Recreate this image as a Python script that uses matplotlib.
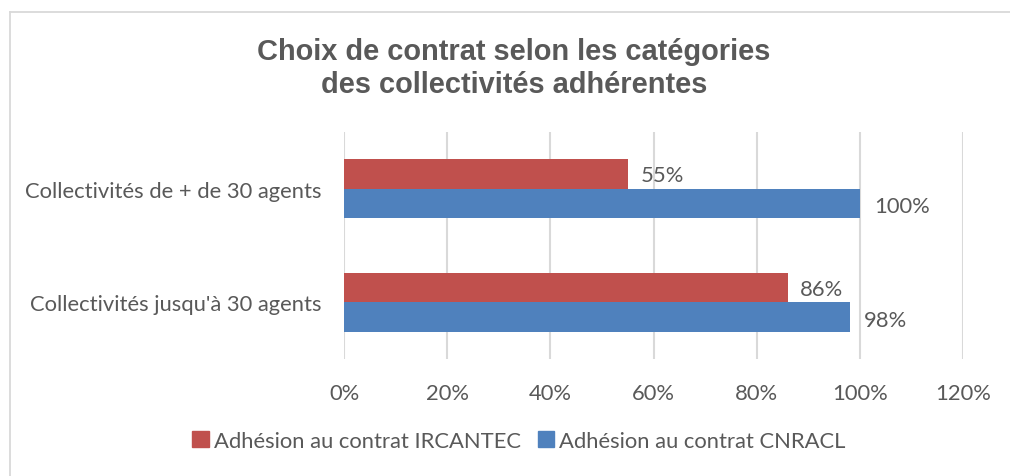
import matplotlib
matplotlib.use("Agg")
import matplotlib.pyplot as plt
from matplotlib.lines import Line2D
from matplotlib.patches import Patch
from matplotlib.ticker import FuncFormatter
import numpy as np

categories = ["Collectivités jusqu'à 30 agents", "Collectivités de + de 30 agents"]
series_names = ["Adhésion au contrat IRCANTEC", "Adhésion au contrat CNRACL"]
ircantec = [86, 55]
cnracl = [98, 100]
xticks = [0, 20, 40, 60, 80, 100, 120]
title = "Choix de contrat selon les catégories\ndes collectivités adhérentes"

RED = "#C0504D"
BLUE = "#4F81BD"
TXT = "#595959"
GRID = "#D9D9D9"
FONT = "Lato"
FS = 15.8

W, H = 1010, 477
fig = plt.figure(figsize=(W / 100, H / 100), dpi=100)

# outer chart frame (top and left edges visible)
fig.lines.append(Line2D([9.5 / W, 1.0], [1 - 12.5 / H, 1 - 12.5 / H],
                        transform=fig.transFigure, color=GRID, linewidth=1.3))
fig.lines.append(Line2D([9.5 / W, 9.5 / W], [0.0, 1 - 12.5 / H],
                        transform=fig.transFigure, color=GRID, linewidth=1.3))

ax = fig.add_axes([344 / W, 1 - 360 / H, (963 - 344) / W, (360 - 133) / H])
y = np.arange(len(categories))
h = 0.26
ax.barh(y + h / 2, ircantec, height=h, color=RED, zorder=3)
ax.barh(y - h / 2, cnracl, height=h, color=BLUE, zorder=3)

for yi, v in zip(y + h / 2, ircantec):
    ax.annotate(f"{v}%", (v, yi), xytext=(9, -1), textcoords="offset points",
                va="center", ha="left", color=TXT, fontsize=FS, family=FONT)
for yi, v in zip(y - h / 2, cnracl):
    ax.annotate(f"{v}%", (v, yi), xytext=(10, -2), textcoords="offset points",
                va="center", ha="left", color=TXT, fontsize=FS, family=FONT)

ax.set_xlim(0, 120)
ax.set_ylim(-0.5, 1.5)
ax.set_xticks(xticks)
ax.xaxis.set_major_formatter(FuncFormatter(lambda v, p: f"{v:.0f}%"))
ax.set_yticks(y)
ax.set_yticklabels(categories)
ax.grid(axis="x", color=GRID, linewidth=1.5, zorder=0)
for s in ax.spines.values():
    s.set_visible(False)
ax.tick_params(axis="both", length=0, colors=TXT, labelsize=FS)
ax.tick_params(axis="x", pad=17)
ax.tick_params(axis="y", pad=16)
for lbl in ax.get_xticklabels() + ax.get_yticklabels():
    lbl.set_family(FONT)

fig.text(514 / W, 1 - 68.5 / H, title, ha="center", va="center", fontsize=20.9,
         fontweight="bold", color=TXT, family="Liberation Sans", linespacing=1.27)

handles = [Patch(color=RED), Patch(color=BLUE)]
fig.legend(handles, series_names, loc="center", bbox_to_anchor=(519 / W, 1 - 442 / H),
           ncol=2, frameon=False, labelcolor=TXT,
           handlelength=0.75, handleheight=0.75, handletextpad=0.25, columnspacing=0.75,
           prop={"family": FONT, "size": FS})

fig.savefig("out.png", dpi=100)
